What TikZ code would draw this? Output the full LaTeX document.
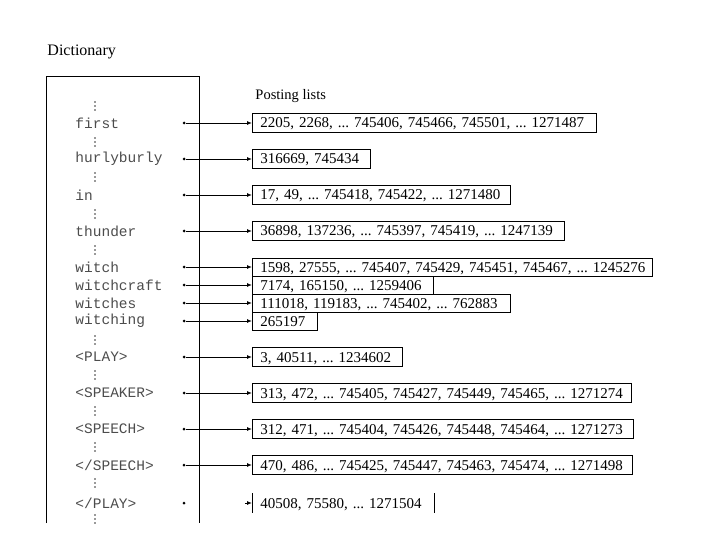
\documentclass[tikz,border=0pt]{standalone}
\usepackage{fontspec}
\setmainfont{Liberation Serif}
\setmonofont{Liberation Mono}
\usetikzlibrary{arrows.meta}
\frenchspacing
\begin{document}
\begin{tikzpicture}[x=1pt,y=-1pt,
  every path/.style={line width=0.9pt},
  word/.style={anchor=west, inner sep=0pt, font=\ttfamily\fontsize{14.5}{16}\selectfont, text=black!70},
  ptr/.style={circle, fill=black, inner sep=0pt, minimum size=3pt},
  pbox/.style={draw, anchor=west, minimum height=19pt, inner ysep=0pt, inner xsep=8pt, align=left, text width=#1-16pt, text height=11.5pt, text depth=1.5pt, font=\frenchspacing\fontsize{15}{17}\selectfont},
  pboxnd/.style={anchor=west, minimum height=19pt, inner ysep=0pt, inner xsep=8pt, align=left, text width=#1-16pt, text height=11.5pt, text depth=1.5pt, font=\frenchspacing\fontsize{15}{17}\selectfont},
  arr/.style={-{Latex[length=5pt,width=4pt]}},
  lbl/.style={anchor=west, inner sep=0pt},
  vdot/.style={fill=black!80}
]
\useasboundingbox (0,0) rectangle (720,540);

\node[lbl, font=\fontsize{16}{18}\selectfont] (dict) at (47,52) {Dictionary};
\node[lbl, font=\fontsize{14.5}{16}\selectfont] (post) at (255,96) {Posting lists};

\coordinate (dbl) at (46,523);
\coordinate (dtl) at (46,76);
\coordinate (dtr) at (199,76);
\coordinate (dbr) at (199,523);
\draw (dbl) -- (dtl) -- (dtr) -- (dbr);

% vertical ellipses
\foreach \y in {106,142,177,214,250,340,375,411,447,483,519}
  \foreach \dy in {-4,0,4}
    \fill[vdot] (95,\y+\dy) circle (0.85);

% words
\node[word] (w1) at (75,123) {first};
\node[word] (w2) at (75,159) {hurlyburly};
\node[word] (w3) at (75,195) {in};
\node[word] (w4) at (75,231) {thunder};
\node[word] (w5) at (75,267) {witch};
\node[word] (w6) at (75,285) {witchcraft};
\node[word] (w7) at (75,303) {witches};
\node[word] (w8) at (75,321) {witching};
\node[word] (w9) at (75,357) {<PLAY>};
\node[word] (w10) at (75,393) {<SPEAKER>};
\node[word] (w11) at (75,429) {<SPEECH>};
\node[word] (w12) at (75,465) {</SPEECH>};
\node[word] (w13) at (75,503) {</PLAY>};

% pointers
\foreach \i/\y in {1/123,2/159,3/195,4/231,5/267,6/285,7/303,8/321,9/357,10/393,11/429,12/465,13/503}
  \node[ptr] (d\i) at (184,\y) {};

% posting lists
\node[pbox=344pt] (b1) at (252,123) {\mbox{2205, 2268, ... 745406, 745466, 745501, ... 1271487}};
\node[pbox=118pt] (b2) at (252,159) {\mbox{316669, 745434}};
\node[pbox=258pt] (b3) at (252,195) {\mbox{17, 49, ... 745418, 745422, ... 1271480}};
\node[pbox=312pt] (b4) at (252,231) {\mbox{36898, 137236, ... 745397, 745419, ... 1247139}};
\node[pbox=400pt, minimum height=18pt] (b5) at (252,267) {\mbox{1598, 27555, ... 745407, 745429, 745451, 745467, ... 1245276}};
\node[pbox=181pt, minimum height=18pt] (b6) at (252,285) {\mbox{7174, 165150, ... 1259406}};
\node[pbox=258pt, minimum height=18pt] (b7) at (252,303) {\mbox{111018, 119183, ... 745402, ... 762883}};
\node[pbox=65pt, minimum height=18pt] (b8) at (252,321) {\mbox{265197}};
\node[pbox=150pt] (b9) at (252,357) {\mbox{3, 40511, ... 1234602}};
\node[pbox=379pt] (b10) at (252,393) {\mbox{313, 472, ... 745405, 745427, 745449, 745465, ... 1271274}};
\node[pbox=381pt] (b11) at (252,429) {\mbox{312, 471, ... 745404, 745426, 745448, 745464, ... 1271273}};
\node[pbox=380pt] (b12) at (252,465) {\mbox{470, 486, ... 745425, 745447, 745463, 745474, ... 1271498}};
\node[pboxnd=182pt] (b13) at (252,503) {\mbox{40508, 75580, ... 1271504}};
\draw (b13.north west) -- (b13.south west);
\draw (b13.north east) -- (b13.south east);

% connectors
\foreach \i in {1,...,12}
  \draw[arr] (d\i) -- (b\i.west);
\coordinate (a13) at (245,503);
\draw[arr] (a13) -- (b13.west);
\end{tikzpicture}
\end{document}
